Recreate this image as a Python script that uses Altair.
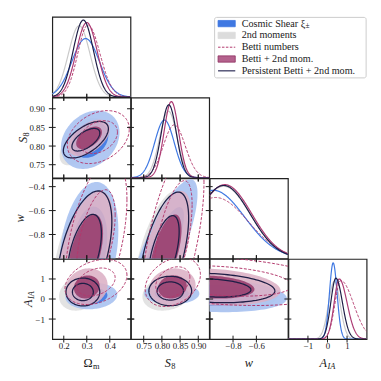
import numpy as np
import pandas as pd
import altair as alt

# ---------------- values ----------------
DOMAINS = {"Om": [0.15, 0.49], "S8": [0.715, 0.93], "w": [-1.0, -0.33], "A": [-2.0, 2.0]}
X_TICKS = {"Om": [0.2, 0.3, 0.4], "S8": [0.75, 0.80, 0.85, 0.90], "w": [-0.8, -0.6], "A": [-1, 0, 1]}
Y_TICKS = {"S8": [0.75, 0.80, 0.85, 0.90], "w": [-0.8, -0.6, -0.4], "A": [-1, 0, 1]}
TICK_FMT = {"Om": ".1f", "S8": ".2f", "w": ".1f", "A": "d"}

LEGEND_LABELS = ["Cosmic Shear ξ", "2nd moments", "Betti numbers", "Betti + 2nd mom.",
                 "Persistent Betti + 2nd mom."]

# 1D marginals: mean, sigma below, sigma above, peak height (fraction of panel)
MARG_OM = {"xi": [0.295, 0.060, 0.060, 0.73], "m2": [0.267, 0.047, 0.047, 0.89],
           "betti": [0.305, 0.044, 0.052, 0.90], "bm": [0.300, 0.046, 0.046, 0.93],
           "pb": [0.285, 0.044, 0.044, 0.96]}
MARG_S8 = {"xi": [0.807, 0.027, 0.027, 0.72], "m2": [0.818, 0.024, 0.024, 0.83],
           "betti": [0.834, 0.030, 0.030, 0.66], "bm": [0.826, 0.020, 0.020, 0.95],
           "pb": [0.819, 0.021, 0.021, 0.91]}
MARG_W = {"xi": [-0.97, 0.27, 0.27, 0.85], "m2": [-0.88, 0.23, 0.23, 0.90],
          "betti": [-0.95, 0.28, 0.28, 0.76], "bm": [-0.87, 0.23, 0.23, 0.92],
          "pb": [-0.88, 0.228, 0.228, 0.91]}
MARG_A = {"xi": [0.29, 0.19, 0.20, 0.95], "m2": [0.35, 0.30, 0.30, 0.72],
          "betti": [0.68, 0.30, 0.65, 0.73], "bm": [0.60, 0.26, 0.40, 0.75],
          "pb": [0.43, 0.26, 0.33, 0.76]}

# 2D contours: centre x, centre y, sigma x, sigma y, correlation
PAIR_OM_S8 = {"xi": [0.315, 0.817, 0.052, 0.032, 0.25], "m2": [0.275, 0.812, 0.038, 0.026, 0.6],
              "betti": [0.35, 0.824, 0.055, 0.029, 0.3], "bm": [0.31, 0.822, 0.037, 0.020, 0.5],
              "pb": [0.296, 0.817, 0.040, 0.020, 0.6]}
PAIR_OM_W = {"xi": [0.31, -0.90, 0.052, 0.22, 0.25], "m2": [0.26, -0.97, 0.045, 0.22, 0.55],
             "betti": [0.34, -0.85, 0.055, 0.28, 0.5], "bm": [0.295, -0.95, 0.050, 0.21, 0.5],
             "pb": [0.29, -0.95, 0.0486, 0.21, 0.5]}
PAIR_OM_A = {"xi": [0.32, 0.15, 0.046, 0.27, 0.1], "m2": [0.27, 0.30, 0.037, 0.36, 0.2],
             "betti": [0.34, 0.85, 0.055, 0.46, 0.3], "bm": [0.30, 0.60, 0.037, 0.38, 0.1],
             "pb": [0.283, 0.35, 0.030, 0.284, 0.0]}
PAIR_S8_W = {"xi": [0.80, -0.95, 0.040, 0.25, 0.8], "m2": [0.795, -0.97, 0.030, 0.22, 0.6],
             "betti": [0.83, -0.85, 0.035, 0.33, 0.6], "bm": [0.81, -0.95, 0.029, 0.21, 0.6],
             "pb": [0.805, -0.96, 0.028, 0.21, 0.58]}
PAIR_S8_A = {"xi": [0.827, 0.27, 0.031, 0.22, 0.0], "m2": [0.815, 0.30, 0.028, 0.36, 0.2],
             "betti": [0.83, 0.85, 0.031, 0.50, 0.3], "bm": [0.829, 0.60, 0.026, 0.38, 0.1],
             "pb": [0.823, 0.40, 0.024, 0.30, 0.0]}
PAIR_W_A = {"xi": [-1.0, 0.2, 0.27, 0.35, -0.2], "m2": [-0.98, 0.3, 0.23, 0.38, -0.15],
            "betti": [-0.9, 0.9, 0.40, 0.50, -0.3], "bm": [-0.98, 0.6, 0.24, 0.38, -0.2],
            "pb": [-0.98, 0.55, 0.22, 0.30, -0.2]}

# ---------------- styling ----------------
W, H = 79.5, 81.5
K68, K95 = 1.515, 2.448
SERIF = "Liberation Serif"
INK = "#1a1a1a"
NAVY = "#1e1e46"
BETTI = "#b3386c"
FILLS = {"m2": ("#e3e3e3", "#cdcdcd", 1.0), "xi": ("#a9c2f1", "#3f78e2", 0.9),
         "bm": ("#dcb0c5", "#973b6b", 0.88)}
DIAG_STYLE = {"m2": ("#c9c9c9", None), "xi": ("#3f78e2", None), "betti": (BETTI, [3, 1.6]),
              "bm": ("#ad3b74", None), "pb": (NAVY, None)}
TITLES = {"Om": ("Ω", "m", "normal", "normal", 1.3), "S8": ("S", "8", "italic", "normal", 0.9),
          "w": ("w", "", "italic", "normal", 0.0), "A": ("A", "IA", "italic", "italic", -0.4)}
YTITLE_X = {"S8": -30, "w": -33, "A": -25}
TL = 3.5
LEFT_EXT = -37
ONE = pd.DataFrame({"a": [0]})


def ellipse_frame(p, k, lev, n=120):
    cx, cy, sx, sy, rho = p
    t = np.linspace(0, 2 * np.pi, n)
    u, v = k * np.cos(t), k * np.sin(t)
    return pd.DataFrame({"x": cx + sx * u, "y": cy + sy * (rho * u + np.sqrt(1 - rho ** 2) * v),
                         "i": np.arange(n), "lev": lev})


def marginal_frame(p, dom, n=220):
    m, slo, shi, peak = p
    x = np.linspace(dom[0], dom[1], n)
    s = np.where(x < m, slo, shi)
    return pd.DataFrame({"x": x, "y": peak * np.exp(-0.5 * ((x - m) / s) ** 2)})


def x_axis(px, show):
    if not show:
        return None
    return alt.Axis(values=X_TICKS[px], format=TICK_FMT[px], ticks=False, domain=False, grid=False,
                    labelFont=SERIF, labelFontSize=9, labelColor=INK, labelPadding=3,
                    labelOverlap=False, labelFlush=False, title=None)


def y_axis(py, show):
    if not show:
        return None
    return alt.Axis(values=Y_TICKS[py], format=TICK_FMT[py], ticks=False, domain=False, grid=False,
                    labelFont=SERIF, labelFontSize=9, labelColor=INK, labelPadding=8,
                    labelOverlap=False, labelFlush=False, title=None)


def spacer(x0):
    # invisible mark that gives every cell of the first column the same left extent
    return alt.Chart(ONE).mark_rule(opacity=0).encode(
        x=alt.value(x0), x2=alt.value(x0 + 1), y=alt.value(H / 2))


def tick_layers(px, py, X, Y, diag=False):
    out = []
    dx = pd.DataFrame({"x": X_TICKS[px]})
    out.append(alt.Chart(dx).mark_rule(color=INK, strokeWidth=1).encode(
        x=X, y=alt.value(H - TL), y2=alt.value(H + TL)))
    if diag:
        return out
    out.append(alt.Chart(dx).mark_rule(color=INK, strokeWidth=1).encode(
        x=X, y=alt.value(-TL), y2=alt.value(TL)))
    dy = pd.DataFrame({"y": Y_TICKS[py]})
    out.append(alt.Chart(dy).mark_rule(color=INK, strokeWidth=1).encode(
        y=Y, x=alt.value(-TL), x2=alt.value(TL)))
    out.append(alt.Chart(dy).mark_rule(color=INK, strokeWidth=1).encode(
        y=Y, x=alt.value(W - TL), x2=alt.value(W + TL)))
    return out


def title_layers(name, vertical):
    main, sub, mstyle, sstyle, shift = TITLES[name]
    layers = []
    if vertical:
        ax, ay, ang = YTITLE_X[name], H / 2 - shift, 270
    else:
        ax, ay, ang = W / 2 + shift, H + 24, 0
    layers.append(alt.Chart(ONE).mark_text(
        text=main, font=SERIF, fontSize=12.5, fontStyle=mstyle, color=INK, angle=ang,
        align="right" if sub else "center", baseline="middle").encode(
        x=alt.value(ax), y=alt.value(ay)))
    if sub:
        layers.append(alt.Chart(ONE).mark_text(
            text=sub, font=SERIF, fontSize=8.5, fontStyle=sstyle, color=INK, angle=ang,
            align="left", baseline="middle", dx=0.3, dy=3.2).encode(
            x=alt.value(ax), y=alt.value(ay)))
    return layers


def pair_panel(px, py, pars, show_x, show_y):
    X = alt.X("x:Q", scale=alt.Scale(domain=DOMAINS[px], nice=False, zero=False), axis=x_axis(px, show_x))
    Y = alt.Y("y:Q", scale=alt.Scale(domain=DOMAINS[py], nice=False, zero=False), axis=y_axis(py, show_y))
    layers = []
    for key in ["m2", "xi", "bm"]:
        outer, inner, op = FILLS[key]
        for k, col in [(K95, outer), (K68, inner)]:
            df = ellipse_frame(pars[key], k, "a")
            layers.append(alt.Chart(df).mark_line(fill=col, fillOpacity=op, strokeWidth=0,
                                                  stroke="transparent", clip=True).encode(
                x=X, y=Y, order="i:Q"))
    for key, col, dash, sw in [("pb", NAVY, None, 1.3), ("betti", BETTI, [3, 1.6], 1.0)]:
        df = pd.concat([ellipse_frame(pars[key], K95, "o"), ellipse_frame(pars[key], K68, "n")])
        kw = dict(color=col, strokeWidth=sw, clip=True)
        if dash:
            kw["strokeDash"] = dash
        layers.append(alt.Chart(df).mark_line(**kw).encode(x=X, y=Y, order="i:Q", detail="lev:N"))
    layers += tick_layers(px, py, X, Y)
    if show_x:
        layers += title_layers(px, False)
    if show_y:
        layers += title_layers(py, True)
        layers.append(spacer(LEFT_EXT))
    return alt.layer(*layers).properties(width=W, height=H)


def diag_panel(px, marg, show_x, first_col=False):
    X = alt.X("x:Q", scale=alt.Scale(domain=DOMAINS[px], nice=False, zero=False), axis=x_axis(px, show_x))
    Y = alt.Y("y:Q", scale=alt.Scale(domain=[0, 1.0], nice=False, zero=False), axis=None)
    layers = []
    for key in ["m2", "xi", "betti", "bm", "pb"]:
        col, dash = DIAG_STYLE[key]
        kw = dict(color=col, strokeWidth=1.2, clip=True)
        if dash:
            kw["strokeDash"] = dash
            kw["strokeWidth"] = 1.0
        layers.append(alt.Chart(marginal_frame(marg[key], DOMAINS[px])).mark_line(**kw).encode(x=X, y=Y))
    layers += tick_layers(px, None, X, Y, diag=True)
    if show_x:
        layers += title_layers(px, False)
    if first_col:
        layers.append(spacer(LEFT_EXT))
    return alt.layer(*layers).properties(width=W, height=H)


def empty_cell():
    return alt.Chart(ONE).mark_point(opacity=0, size=1).encode(
        x=alt.value(W / 2), y=alt.value(H / 2)).properties(
        width=W, height=H, view=alt.ViewBackground(stroke="transparent"))


def legend_cell():
    rows = pd.DataFrame({"label": LEGEND_LABELS, "i": np.arange(len(LEGEND_LABELS))})
    rows["yc"] = 6.8 + 12.0 * rows["i"]
    rows["y0"] = rows["yc"] - 3.2
    rows["y1"] = rows["yc"] + 3.2
    Yc = alt.Y("yc:Q", scale=None)
    layers = [alt.Chart(ONE).mark_rect(fill="white", stroke="#cccccc", strokeWidth=1, cornerRadius=2).encode(
        x=alt.value(85), x2=alt.value(239), y=alt.value(0.5), y2=alt.value(62))]
    patch = {0: ("#3f78e2", "#3f78e2"), 1: ("#dcdcdc", "#dcdcdc"), 3: ("#b4628d", "#8d2f5f")}
    for i, (fc, sc) in patch.items():
        layers.append(alt.Chart(rows[rows["i"] == i]).mark_rect(fill=fc, stroke=sc, strokeWidth=0.8).encode(
            x=alt.value(88.5), x2=alt.value(106), y=alt.Y("y0:Q", scale=None), y2="y1:Q"))
    layers.append(alt.Chart(rows[rows["i"] == 2]).mark_rule(color=BETTI, strokeWidth=1, strokeDash=[2.5, 1.5]).encode(
        x=alt.value(88.5), x2=alt.value(106), y=Yc))
    layers.append(alt.Chart(rows[rows["i"] == 4]).mark_rule(color="#3a3a62", strokeWidth=1.3).encode(
        x=alt.value(88.5), x2=alt.value(106), y=Yc))
    layers.append(alt.Chart(rows).mark_text(align="left", baseline="middle", font=SERIF, fontSize=10.3,
                                            color=INK).encode(x=alt.value(112.5), y=Yc, text="label:N"))
    layers.append(alt.Chart(rows[rows["i"] == 0]).mark_text(
        text="±", align="left", baseline="middle", font=SERIF, fontSize=7.5, color=INK, dy=2.8).encode(
        x=alt.value(177.5), y=Yc))
    return alt.layer(*layers).properties(width=W, height=H, view=alt.ViewBackground(stroke="transparent"))


cells = [
    diag_panel("Om", MARG_OM, False, first_col=True), legend_cell(), empty_cell(), empty_cell(),
    pair_panel("Om", "S8", PAIR_OM_S8, False, True), diag_panel("S8", MARG_S8, False), empty_cell(), empty_cell(),
    pair_panel("Om", "w", PAIR_OM_W, False, True), pair_panel("S8", "w", PAIR_S8_W, False, False),
    diag_panel("w", MARG_W, False), empty_cell(),
    pair_panel("Om", "A", PAIR_OM_A, True, True), pair_panel("S8", "A", PAIR_S8_A, True, False),
    pair_panel("w", "A", PAIR_W_A, True, False), diag_panel("A", MARG_A, True),
]

chart = alt.concat(*cells, columns=4, spacing=0, bounds="flush").configure_view(
    stroke="#222222", strokeWidth=1.2).properties(background="white")

chart.save("out.html", embed_options={"renderer": "svg", "actions": False})
